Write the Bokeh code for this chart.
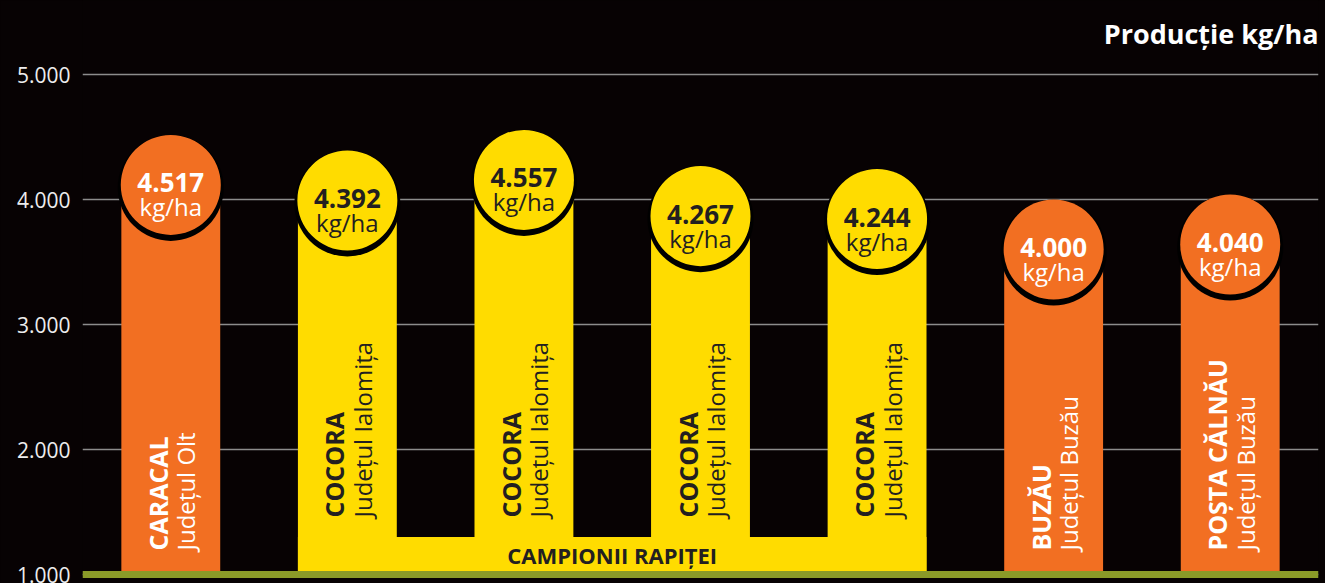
import math
from bokeh.plotting import figure
from bokeh.models import Range1d, FixedTicker, Span, ColumnDataSource
from bokeh.core.properties import value
from bokeh.embed import file_html
from bokeh.resources import INLINE
from jinja2 import Template

# ---------------- data ----------------
names = ["CARACAL", "COCORA", "COCORA", "COCORA", "COCORA", "BUZĂU", "POȘTA CĂLNĂU"]
counties = ["Județul Olt", "Județul Ialomița", "Județul Ialomița", "Județul Ialomița",
            "Județul Ialomița", "Județul Buzău", "Județul Buzău"]
yields = [4517, 4392, 4557, 4267, 4244, 4000, 4040]
groups = ["other", "rapita", "rapita", "rapita", "rapita", "other", "other"]
y_ticks = [1000, 2000, 3000, 4000, 5000]
y_tick_labels = ["1.000", "2.000", "3.000", "4.000", "5.000"]
unit_label = "kg/ha"
title_text = "Producție kg/ha"
band_text = "CAMPIONII RAPIȚEI"

# ---------------- style ----------------
BG = "#070203"
ORANGE = "#F26F22"
YELLOW = "#FFDC00"
DARK = "#231F20"
GREEN = "#8A9A28"
FONT = "Open Sans"

W, H = 1325, 583
Y0, Y1 = 928, 5592
UPP = (Y1 - Y0) / H            # data units per pixel
R_PX = 50                      # circle radius in px
BAR_W = 0.56
BASE = 1000
BAND_TOP = 1300
NAME_Y_OTHER = 1192
NAME_Y_BAND = 1456
BAND_LABEL_Y = 1160
TITLE_Y = 5328

n = len(yields)
xs = list(range(n))
fill = [YELLOW if g == "rapita" else ORANGE for g in groups]
tcol = [DARK if g == "rapita" else "#FFFFFF" for g in groups]
name_y = [NAME_Y_BAND if g == "rapita" else NAME_Y_OTHER for g in groups]
centers = [v - R_PX * UPP for v in yields]
shadow = [c - 3 * UPP for c in centers]
val_txt = [f"{v:,}".replace(",", ".") for v in yields]

src = ColumnDataSource(dict(x=xs, top=centers, cy=centers, sy=shadow, fill=fill,
                            tc=tcol, val=val_txt, unit=[unit_label] * n,
                            name=names, county=counties, ny=name_y))

p = figure(width=W, height=H, x_range=Range1d(-0.5, n - 0.5), y_range=Range1d(Y0, Y1),
           output_backend="svg", toolbar_location=None,
           min_border_left=82, min_border_right=7, min_border_top=0, min_border_bottom=0,
           background_fill_color=BG, border_fill_color=BG, outline_line_color=None)

p.xaxis.visible = False
p.xgrid.visible = False
p.ygrid.grid_line_color = "#8C8C8C"
p.ygrid.grid_line_width = 1.5
p.ygrid.ticker = FixedTicker(ticks=y_ticks)
p.yaxis.ticker = FixedTicker(ticks=y_ticks)
p.yaxis.major_label_overrides = {t: l for t, l in zip(y_ticks, y_tick_labels)}
p.yaxis.axis_line_color = None
p.yaxis.major_tick_line_color = None
p.yaxis.minor_tick_line_color = None
p.yaxis.major_tick_out = 0
p.yaxis.major_label_standoff = 12
p.yaxis.major_label_text_color = "#EDEDED"
p.yaxis.major_label_text_font = FONT
p.yaxis.major_label_text_font_size = "21px"

# connecting band for the rapeseed champions
ri = [i for i, g in enumerate(groups) if g == "rapita"]
p.quad(left=[ri[0] - BAR_W / 2], right=[ri[-1] + BAR_W / 2], bottom=[BASE], top=[BAND_TOP],
       fill_color=YELLOW, line_color=None)

# bars
p.vbar(x="x", width=BAR_W, bottom=BASE, top="top", fill_color="fill", line_color=None, source=src)

# circle shadow + circle
p.scatter(x="x", y="sy", size=2 * (R_PX + 3), marker="circle", fill_color="#000000",
          line_color=None, source=src)
p.scatter(x="x", y="cy", size=2 * R_PX, marker="circle", fill_color="fill",
          line_color=None, source=src)

# value labels
p.text(x="x", y="cy", text="val", text_font=value(FONT), text_font_style="bold",
       text_font_size="26px", text_color="tc", text_align="center",
       text_baseline="alphabetic", y_offset=-2, source=src)
p.text(x="x", y="cy", text="unit", text_font=value(FONT), text_font_size="24px",
       text_color="tc", text_align="center", text_baseline="alphabetic",
       y_offset=22, source=src)

# rotated names
p.text(x="x", y="ny", text="name", angle=math.pi / 2, text_font=value(FONT),
       text_font_style="bold", text_font_size="25px", text_color="tc",
       text_align="left", text_baseline="middle", x_offset=-13, source=src)
p.text(x="x", y="ny", text="county", angle=math.pi / 2, text_font=value(FONT),
       text_font_size="24px", text_color="tc",
       text_align="left", text_baseline="middle", x_offset=15, source=src)

# band label
p.text(x=[(ri[0] + ri[-1]) / 2], y=[BAND_LABEL_Y], text=[band_text], text_font=value(FONT),
       text_font_style="bold", text_font_size="22px", text_color=DARK,
       text_align="center", text_baseline="middle")

# title
p.text(x=[n - 0.5], y=[TITLE_Y], text=[title_text], text_font=value(FONT),
       text_font_style="bold", text_font_size="27px", text_color="#FFFFFF",
       text_align="right", text_baseline="alphabetic")

# baseline
p.add_layout(Span(location=BASE, dimension="width", line_color=GREEN, line_width=7))

tmpl = Template("""{% extends base %}
{% block preamble %}<style>html, body { background: #070203; overflow: hidden; }</style>{% endblock %}""")

open("out.html", "w").write(file_html(p, INLINE, template=tmpl))
